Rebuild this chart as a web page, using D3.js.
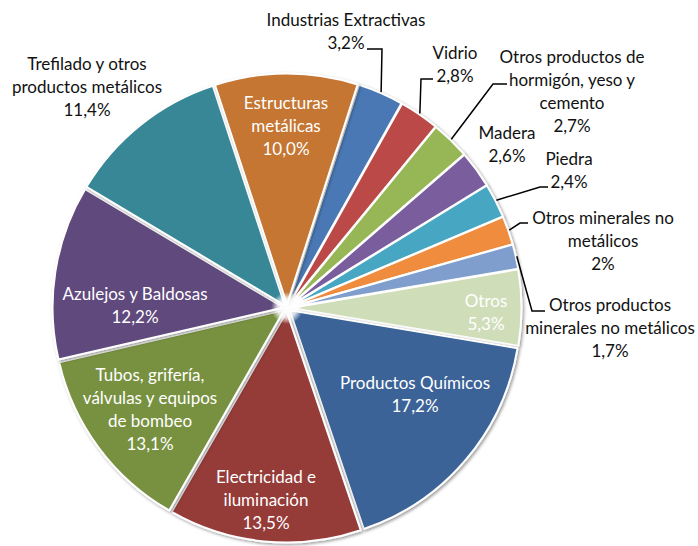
<!DOCTYPE html>
<html>
<head>
<meta charset="utf-8">
<script src="https://cdn.jsdelivr.net/npm/d3@7"></script>
<style>
  html, body { margin: 0; padding: 0; background: #fff; }
  svg text { font-family: Lato, "Open Sans", sans-serif; }
</style>
</head>
<body>
<div id="chart"></div>
<script>
// データ-----------------------------------------------------------------------------------
const categories = [
  'Industrias Extractivas', 'Vidrio', 'Otros productos de hormigón, yeso y cemento',
  'Madera', 'Piedra', 'Otros minerales no metálicos',
  'Otros productos minerales no metálicos', 'Otros', 'Productos Químicos',
  'Electricidad e iluminación', 'Tubos, grifería, válvulas y equipos de bombeo',
  'Azulejos y Baldosas', 'Trefilado y otros productos metálicos', 'Estructuras metálicas'
];
const values = [3.2, 2.8, 2.7, 2.6, 2.4, 2, 1.7, 5.3, 17.2, 13.5, 13.1, 12.2, 11.4, 10.0];
const valueLabels = ['3,2%', '2,8%', '2,7%', '2,6%', '2,4%', '2%', '1,7%', '5,3%', '17,2%', '13,5%', '13,1%', '12,2%', '11,4%', '10,0%'];
const colors = [
  '#4a78b4', '#bb4a47', '#97b756', '#7a5d9c', '#47a7c2', '#f08c3e',
  '#7f9ece', '#d0ddb9', '#3b6497', '#953a38', '#78913f', '#614a7b', '#378797', '#c47633'
];

// レイアウト（ラベル位置・改行）----------------------------------------------------------
// lines: 表示行, x/y: 1行目の中心, inside: 白文字, leader: 引出線の水平部分の端点
const labelLayout = [
  { lines: ['Industrias Extractivas', '3,2%'], x: 346, y: 20, leader: [[367, 49], [382, 49]] },
  { lines: ['Vidrio', '2,8%'], x: 455, y: 53, leader: [[433, 79], [421, 79]] },
  { lines: ['Otros productos de', 'hormigón, yeso y', 'cemento', '2,7%'], x: 572, y: 57, leader: [[507, 84], [493, 84]] },
  { lines: ['Madera', '2,6%'], x: 507, y: 133 },
  { lines: ['Piedra', '2,4%'], x: 569, y: 159, leader: [[548, 187], [540, 187]] },
  { lines: ['Otros minerales no', 'metálicos', '2%'], x: 603, y: 218, leader: [[528, 223], [520, 223]] },
  { lines: ['Otros productos', 'minerales no metálicos', '1,7%'], x: 610, y: 305, leader: [[545, 311], [532, 311]] },
  { lines: ['Otros', '5,3%'], x: 486, y: 301, inside: true },
  { lines: ['Productos Químicos', '17,2%'], x: 415, y: 383, inside: true },
  { lines: ['Electricidad e', 'iluminación', '13,5%'], x: 266, y: 477, inside: true },
  { lines: ['Tubos, grifería,', 'válvulas y equipos', 'de bombeo', '13,1%'], x: 150, y: 375, inside: true },
  { lines: ['Azulejos y Baldosas', '12,2%'], x: 135, y: 294, inside: true },
  { lines: ['Trefilado y otros', 'productos metálicos', '11,4%'], x: 87, y: 64 },
  { lines: ['Estructuras', 'metálicas', '10,0%'], x: 286, y: 103, inside: true }
];

// SVG領域の設定-----------------------------------------------------------------------------
const width = 698, height = 546;
const cx = 287, cy = 308, radius = 231, explode = 3.5;
const lineH = 22.8;

const svg = d3.select('#chart').append('svg')
  .attr('width', width)
  .attr('height', height);

const defs = svg.append('defs');
const shadow = defs.append('filter')
  .attr('id', 'shadow')
  .attr('x', '-20%').attr('y', '-20%')
  .attr('width', '140%').attr('height', '140%');
shadow.append('feDropShadow')
  .attr('dx', 1.5).attr('dy', 1.5)
  .attr('stdDeviation', 1.6)
  .attr('flood-color', '#000')
  .attr('flood-opacity', 0.4);
const glow = defs.append('radialGradient').attr('id', 'glow');
glow.append('stop').attr('offset', '0%').attr('stop-color', '#fff').attr('stop-opacity', 1);
glow.append('stop').attr('offset', '60%').attr('stop-color', '#fff').attr('stop-opacity', 0.8);
glow.append('stop').attr('offset', '100%').attr('stop-color', '#fff').attr('stop-opacity', 0);

// 円グラフ---------------------------------------------------------------------------------
const a0 = 17.8 * Math.PI / 180;
const pie = d3.pie().sort(null).value(d => d)
  .startAngle(a0).endAngle(a0 + 2 * Math.PI);
const arcs = pie(values);
const arc = d3.arc().innerRadius(0).outerRadius(radius);

const g = svg.append('g').attr('transform', 'translate(' + cx + ',' + cy + ')');

g.selectAll('path')
  .data(arcs)
  .enter()
  .append('path')
  .attr('d', arc)
  .attr('transform', d => {
    const m = (d.startAngle + d.endAngle) / 2;
    return 'translate(' + (explode * Math.sin(m)) + ',' + (-explode * Math.cos(m)) + ')';
  })
  .attr('fill', (d, i) => colors[i])
  .attr('stroke', '#fff')
  .attr('stroke-width', 2)
  .attr('stroke-linejoin', 'round')
  .attr('filter', 'url(#shadow)');

g.append('circle')
  .attr('r', 16)
  .attr('fill', 'url(#glow)');

// 引出線-----------------------------------------------------------------------------------
arcs.forEach((d, i) => {
  const lay = labelLayout[i];
  if (!lay.leader) return;
  const m = (d.startAngle + d.endAngle) / 2;
  const r = radius + explode + 1;
  const end = [cx + r * Math.sin(m), cy - r * Math.cos(m)];
  const pts = lay.leader.concat([end]);
  svg.append('path')
    .attr('d', d3.line()(pts))
    .attr('fill', 'none')
    .attr('stroke', '#000')
    .attr('stroke-width', 1.5);
});

// ラベル-----------------------------------------------------------------------------------
labelLayout.forEach((lay, i) => {
  const t = svg.append('text')
    .attr('text-anchor', 'middle')
    .attr('font-size', '17px')
    .attr('fill', lay.inside ? '#fff' : '#111');
  lay.lines.forEach((ln, k) => {
    t.append('tspan')
      .attr('x', lay.x)
      .attr('y', lay.y + k * lineH)
      .attr('dy', '0.36em')
      .text(ln);
  });
});
</script>
</body>
</html>
